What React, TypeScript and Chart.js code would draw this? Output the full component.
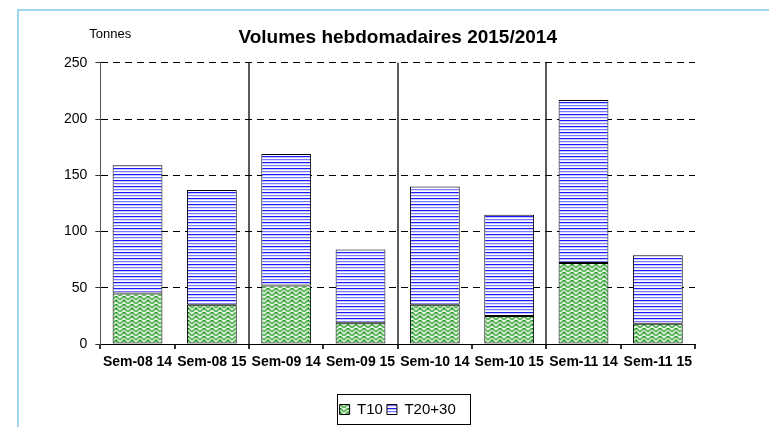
import React, { useEffect, useRef } from "react";
import { Chart, registerables } from "chart.js";

Chart.register(...registerables);

const categories = ["Sem-08 14", "Sem-08 15", "Sem-09 14", "Sem-09 15", "Sem-10 14", "Sem-10 15", "Sem-11 14", "Sem-11 15"];
const t10 = [45, 35, 52, 19, 35, 25, 72, 18];
const t2030 = [114, 102, 117, 65, 105, 90, 145, 61];
const seriesNames = ["T10", "T20+30"];
const titleText = "Volumes hebdomadaires 2015/2014";
const unitText = "Tonnes";
const yMin = 0;
const yMax = 250;
const yStep = 50;

const FONT = "'Liberation Sans', Arial, sans-serif";

function makeGreenPattern(): CanvasPattern | string {
  const c = document.createElement("canvas");
  c.width = 8;
  c.height = 8;
  const g = c.getContext("2d");
  if (!g) return "#8fcf8f";
  g.fillStyle = "#e6f4e6";
  g.fillRect(0, 0, 8, 8);
  g.strokeStyle = "#55b355";
  g.lineWidth = 1.7;
  g.beginPath();
  g.moveTo(0, 4);
  g.lineTo(4, 0);
  g.lineTo(8, 4);
  g.moveTo(0, 8);
  g.lineTo(4, 4);
  g.lineTo(8, 8);
  g.stroke();
  g.fillStyle = "#1c7a1c";
  g.fillRect(4, 0, 1, 1);
  g.fillRect(4, 4, 1, 1);
  const p = g.createPattern(c, "repeat");
  return p || "#8fcf8f";
}

function makeBluePattern(): CanvasPattern | string {
  const c = document.createElement("canvas");
  c.width = 4;
  c.height = 6;
  const g = c.getContext("2d");
  if (!g) return "#8080ff";
  g.fillStyle = "#ffffff";
  g.fillRect(0, 0, 4, 6);
  g.fillStyle = "#1a1aff";
  g.fillRect(0, 0, 4, 1);
  g.fillStyle = "#c8c8ff";
  g.fillRect(0, 1, 4, 1);
  g.fillStyle = "#7a7aff";
  g.fillRect(0, 3, 4, 1);
  g.fillStyle = "#dedeff";
  g.fillRect(0, 4, 4, 1);
  const p = g.createPattern(c, "repeat");
  return p || "#8080ff";
}

export default function App() {
  const canvasRef = useRef<HTMLCanvasElement | null>(null);

  useEffect(() => {
    const canvas = canvasRef.current;
    if (!canvas) return;
    const green = makeGreenPattern();
    const blue = makeBluePattern();

    const extrasPlugin = {
      id: "extras",
      afterDraw(chart: any) {
        const ctx = chart.ctx;
        const ca = chart.chartArea;
        ctx.save();
        ctx.fillStyle = "#000";
        ctx.font = `13px ${FONT}`;
        ctx.textBaseline = "middle";
        ctx.textAlign = "left";
        ctx.fillText(unitText, ca.left - 11, ca.top - 28);
        const boxes = chart.legend && chart.legend.legendHitBoxes;
        if (boxes && boxes.length) {
          let l = Infinity, r = -Infinity, t = Infinity, b = -Infinity;
          for (const h of boxes) {
            l = Math.min(l, h.left);
            r = Math.max(r, h.left + h.width);
            t = Math.min(t, h.top);
            b = Math.max(b, h.top + h.height);
          }
          const cy = (t + b) / 2;
          ctx.strokeStyle = "#000";
          ctx.lineWidth = 1;
          ctx.strokeRect(Math.round(l - 3) + 0.5, Math.round(cy - 16) + 0.5, Math.round(r - l + 17), 30);
        }
        ctx.restore();
      },
    };

    const chart = new Chart(canvas, {
      type: "bar",
      data: {
        labels: categories,
        datasets: [
          {
            label: seriesNames[0],
            data: t10,
            backgroundColor: green as any,
            borderColor: "#000",
            borderWidth: 1,
            borderSkipped: false,
          },
          {
            label: seriesNames[1],
            data: t2030,
            backgroundColor: blue as any,
            borderColor: "#000",
            borderWidth: 1,
            borderSkipped: false,
          },
        ],
      },
      options: {
        animation: false,
        responsive: false,
        devicePixelRatio: 1,
        layout: { padding: { left: 56, right: 74, top: 21, bottom: 0 } },
        datasets: { bar: { categoryPercentage: 1, barPercentage: 0.67 } },
        plugins: {
          title: {
            display: true,
            text: titleText,
            fullSize: false,
            color: "#000",
            font: { family: FONT, size: 19, weight: "bold" },
            padding: { top: 5, bottom: 14 },
          },
          legend: {
            position: "bottom",
            fullSize: false,
            labels: {
              color: "#000",
              font: { family: FONT, size: 15 },
              boxWidth: 10,
              boxHeight: 10,
              padding: 4,
            },
          },
          tooltip: { enabled: false },
        },
        scales: {
          x: {
            stacked: true,
            offset: true,
            afterFit: (s: any) => {
              s.height = 54;
            },
            grid: {
              offset: true,
              color: (c: any) => (c.index % 2 === 0 && c.index > 0 ? "#5a5a5a" : "rgba(0,0,0,0)"),
              lineWidth: 2,
              tickColor: "#333",
              tickLength: 5,
            },
            border: { color: "#000", width: 1 },
            ticks: {
              color: "#000",
              font: { family: FONT, size: 14, weight: "bold" },
              padding: 5,
              maxRotation: 0,
              minRotation: 0,
              autoSkip: false,
            },
          },
          y: {
            stacked: true,
            min: yMin,
            max: yMax,
            grid: {
              color: "#000",
              lineWidth: 1,
              tickColor: "#333",
              tickLength: 5,
            },
            border: { color: "#555", width: 1, dash: [7, 5] },
            ticks: {
              stepSize: yStep,
              color: "#000",
              font: { family: FONT, size: 14 },
              padding: 8,
            },
          },
        },
      },
      plugins: [extrasPlugin],
    });

    return () => {
      chart.destroy();
    };
  }, []);

  return (
    <div style={{ position: "fixed", left: 0, top: 0, width: 769, height: 427, overflow: "hidden", background: "#fff" }}>
      <canvas ref={canvasRef} width={769} height={427} style={{ display: "block", width: 769, height: 427 }} />
      <div
        style={{
          position: "absolute",
          left: 17,
          top: 9,
          width: 800,
          height: 500,
          borderTop: "2px solid #9fd6f2",
          borderLeft: "2px solid #9fd6f2",
          pointerEvents: "none",
        }}
      />
    </div>
  );
}
